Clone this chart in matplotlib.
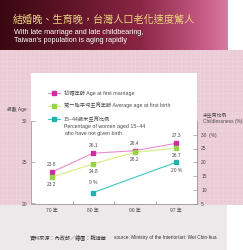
import matplotlib
matplotlib.use('Agg')
import matplotlib.pyplot as plt
import numpy as np
from matplotlib.patches import Rectangle
from matplotlib.colors import to_rgb

# ---------------- data ----------------
years = ['70 年', '80 年', '90 年', '97 年']
marriage_age = [23.8, 26.1, 26.4, 27.3]
birth_age = [23.2, 24.8, 26.2, 26.7]
childless_years = ['80 年', '97 年']
childless_pct = [9, 20]
childless_labels = ['9 %', '20 %']

title = '結婚晚、生育晚，台灣人口老化速度驚人'
subtitle1 = 'With late marriage and late childbearing,'
subtitle2 = "Taiwan's population is aging rapidly"
legend_marriage = '初婚年齡 Age at first marriage'
legend_birth = '第一胎平均生育年齡 Average age at first birth'
legend_childless = ['15~44歲未生育比例', 'Percentage of women aged 15~44', 'who have not given birth']
source_cn = '資料來源：內政部／繪圖：魏靖華'
source_en = 'source: Ministry of the Interior/art: Wei Chin-hua'

FAM = ['Liberation Sans', 'Noto Sans CJK TC', 'DejaVu Sans']
plt.rcParams['font.family'] = FAM

W, H = 243, 250
fig = plt.figure(figsize=(W / 100, H / 100), dpi=100)
fig.patch.set_facecolor('white')

# background axes in pixel coordinates
bg = fig.add_axes([0, 0, 1, 1], zorder=0)
bg.set_xlim(0, W)
bg.set_ylim(H, 0)
bg.axis('off')

# header gradient
stops_x = [0, 60, 140, 200, 227]
stops_c = ['#3a0812', '#5a1224', '#8a2645', '#c45882', '#d97aa0']
xs = np.linspace(0, 227, 300)
cols = np.array([to_rgb(c) for c in stops_c])
grad = np.stack([np.interp(xs, stops_x, cols[:, i]) for i in range(3)], axis=-1)[None, :, :]
bg.imshow(grad, extent=[0, 227, 50, 0], aspect='auto', zorder=1)

# pink patterned area
bg.add_patch(Rectangle((0, 50), W, 155, facecolor='#ebcbd6', edgecolor='none', zorder=1))
for gx in np.arange(2, W, 4.6):
    bg.plot([gx, gx], [50, 205], color='#efd6de', lw=0.4, zorder=1.5)
for gy in np.arange(52, 205, 4.6):
    bg.plot([0, W], [gy, gy], color='#efd6de', lw=0.4, zorder=1.5)
# bottom band
bg.add_patch(Rectangle((0, 205), 227, 45, facecolor='#ede8ea', edgecolor='none', zorder=2))
bg.add_patch(Rectangle((227, 205), 16, 45, facecolor='white', edgecolor='none', zorder=2))

# header texts
bg.text(13, 20, title, color='#ecd57e', fontsize=7.3, va='center', ha='left',
        family=['Noto Sans CJK TC'], zorder=3)
bg.text(14, 32.5, subtitle1, color='white', fontsize=5.2, va='center', ha='left', zorder=3)
bg.text(14, 40.5, subtitle2, color='white', fontsize=5.2, va='center', ha='left', zorder=3)

# ---------------- main axes ----------------
y_bot, y_top, x_l, x_r = 203.5, 73, 31, 197
px_per_year = 8.25
age_top = 20 + (y_bot - y_top) / px_per_year
ax = fig.add_axes([x_l / W, 1 - y_bot / H, (x_r - x_l) / W, (y_bot - y_top) / H], zorder=2)
ax.set_facecolor('white')
ax.set_xlim(-0.5, 3.5)
ax.set_ylim(20, age_top)
ax2 = ax.twinx()
ax2.set_ylim(5, 5 + (age_top - 20) * 3)

axis_c = '#9a9a9a'
txt_c = '#4a4a4a'
fs = 3.5

for s in ['top', 'right']:
    ax.spines[s].set_visible(False)
for s in ['top', 'left', 'bottom']:
    ax2.spines[s].set_visible(False)
ax.spines['left'].set_bounds(20, 30)
ax2.spines['right'].set_bounds(5, 35)
for sp in [ax.spines['left'], ax.spines['bottom'], ax2.spines['right']]:
    sp.set_color(axis_c)
    sp.set_linewidth(0.6)

xpos = np.arange(len(years))
ax.set_xticks([0.5, 1.5, 2.5])
ax.set_xticklabels([])
ax.set_xticks(xpos, minor=True)
ax.set_xticklabels(years, minor=True)
ax.tick_params(axis='x', which='major', direction='in', length=2.5, width=0.5, color=axis_c)
ax.tick_params(axis='x', which='minor', length=0, pad=3, labelsize=fs, labelcolor=txt_c)

ax.set_yticks([20, 25, 30])
ax.tick_params(axis='y', direction='in', length=3, width=0.5, color=axis_c,
               labelsize=fs, labelcolor=txt_c, pad=3)
ax2.set_yticks([5, 10, 15, 20, 25, 30])
ax2.set_yticklabels(['5', '10', '15', '20', '25', '30  (%)'])
ax2.tick_params(axis='y', direction='in', length=3, width=0.5, color=axis_c,
                labelsize=fs, labelcolor=txt_c, pad=3)

pink_l, pink_m = '#e58ccf', '#d22ca4'
green_l, green_m = '#d8ec80', '#92d640'
cyan_l, cyan_m = '#3ec8bc', '#1fb4b0'

ax.plot(xpos, marriage_age, color=pink_l, lw=0.8, marker='s', ms=2.2,
        mfc=pink_m, mec=pink_m, zorder=3)
ax.plot(xpos, birth_age, color=green_l, lw=0.8, marker='s', ms=2.2,
        mfc=green_m, mec=green_m, zorder=3)
cx = [years.index(y) for y in childless_years]
ax2.plot(cx, childless_pct, color=cyan_l, lw=0.8, marker='s', ms=2.2,
         mfc=cyan_m, mec=cyan_m, zorder=3)

for x, v in zip(xpos, marriage_age):
    ax.annotate(f'{v:.1f}', (x, v), xytext=(0, 5.5), textcoords='offset points',
                ha='center', va='center', fontsize=fs, color=txt_c)
for x, v in zip(xpos, birth_age):
    ax.annotate(f'{v:.1f}', (x, v), xytext=(0, -5.5), textcoords='offset points',
                ha='center', va='center', fontsize=fs, color=txt_c)
for x, v, lab, off in zip(cx, childless_pct, childless_labels, [7.5, -6]):
    ax2.annotate(lab, (x, v), xytext=(0, off), textcoords='offset points',
                 ha='center', va='center', fontsize=fs, color=txt_c)

# axis titles
bg.text(7, 109, '歲數 Age', fontsize=fs, color=txt_c, ha='left', va='center', zorder=3)
bg.text(203, 116, '未生育比例', fontsize=fs, color=txt_c, ha='left', va='center', zorder=3)
bg.text(203, 122, 'Childlessness (%)', fontsize=fs, color=txt_c, ha='left', va='center', zorder=3)

# legend (manual, in pixel coords)
ax3 = fig.add_axes([0, 0, 1, 1], zorder=4)
ax3.set_xlim(0, W)
ax3.set_ylim(H, 0)
ax3.axis('off')
for yy, lc, mc, lab in [(93, pink_l, pink_m, legend_marriage),
                        (105.5, green_l, green_m, legend_birth),
                        (119, cyan_l, cyan_m, legend_childless[0])]:
    ax3.plot([48, 60], [yy, yy], color=lc, lw=0.8)
    ax3.plot([54], [yy], marker='s', ms=2.2, color=mc, mec=mc)
    ax3.text(64, yy, lab, fontsize=3.8, color=txt_c, ha='left', va='center')
ax3.text(64, 126.5, legend_childless[1], fontsize=3.8, color=txt_c, ha='left', va='center')
ax3.text(64, 134, legend_childless[2], fontsize=3.8, color=txt_c, ha='left', va='center')

# source
bg.text(30, 238, source_cn, fontsize=3.7, color='#333333', ha='left', va='center', zorder=3)
bg.text(114, 238, source_en, fontsize=3.4, color='#333333', ha='left', va='center', zorder=3)

fig.savefig('out.png', dpi=100)
